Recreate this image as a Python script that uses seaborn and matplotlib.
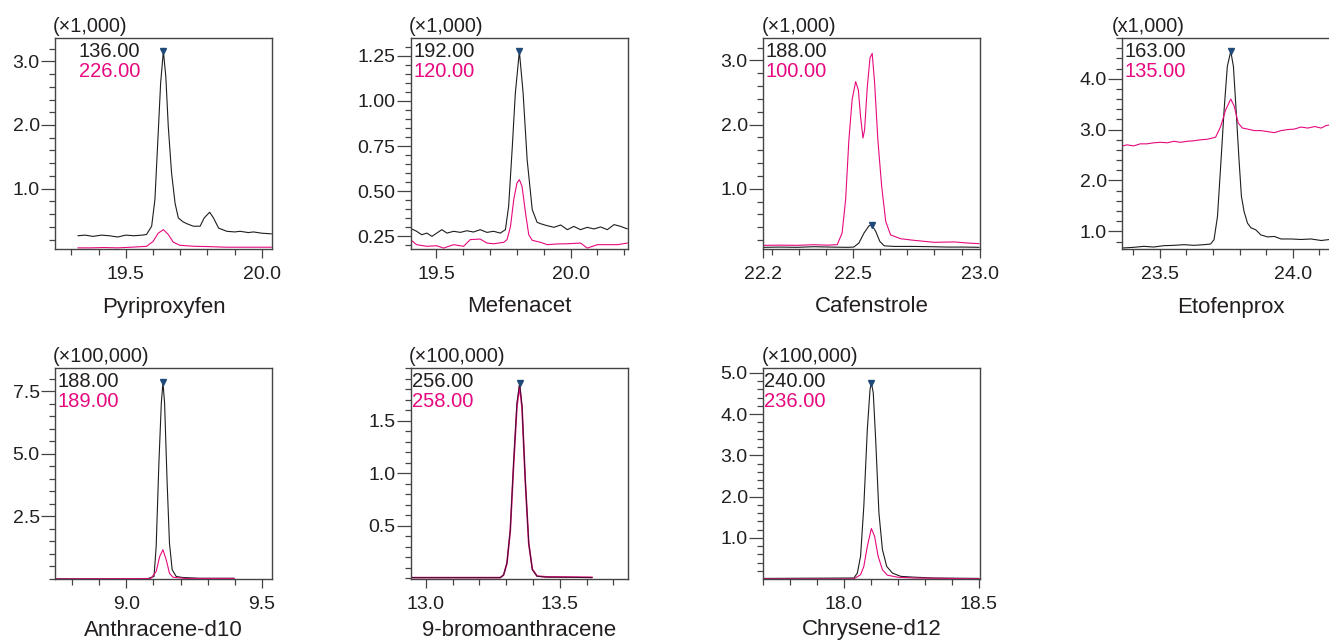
import matplotlib
matplotlib.use("Agg")
import matplotlib.pyplot as plt
from matplotlib.ticker import FixedLocator, MultipleLocator, FormatStrFormatter
import seaborn as sns

# ---- data (retention time in min, intensity in units of the multiplier) ----

# Pyriproxyfen  (x1,000)
pyr_rt_136 = [19.324, 19.35, 19.38, 19.41, 19.44, 19.47, 19.50, 19.53, 19.56, 19.576, 19.595, 19.607,
              19.619, 19.628, 19.638, 19.647, 19.656, 19.668, 19.681, 19.693, 19.71, 19.724, 19.748,
              19.773, 19.788, 19.808, 19.822, 19.841, 19.871, 19.90, 19.92, 19.95, 19.969, 20.0, 20.035]
pyr_int_136 = [0.26, 0.27, 0.25, 0.27, 0.26, 0.24, 0.27, 0.26, 0.27, 0.28, 0.41, 0.83,
               1.87, 2.66, 3.16, 2.76, 1.98, 1.25, 0.77, 0.54, 0.48, 0.45, 0.41,
               0.41, 0.54, 0.63, 0.54, 0.38, 0.33, 0.32, 0.33, 0.31, 0.32, 0.30, 0.29]
pyr_rt_226 = [19.324, 19.37, 19.42, 19.47, 19.52, 19.576, 19.60, 19.619, 19.638, 19.656, 19.674,
              19.699, 19.75, 19.80, 19.87, 19.94, 20.035]
pyr_int_226 = [0.07, 0.07, 0.075, 0.07, 0.08, 0.094, 0.17, 0.30, 0.356, 0.28, 0.16,
               0.11, 0.095, 0.09, 0.08, 0.08, 0.08]

# Mefenacet  (x1,000)
mef_rt_192 = [19.408, 19.426, 19.445, 19.464, 19.483, 19.501, 19.52, 19.539, 19.564, 19.589, 19.613,
              19.638, 19.663, 19.688, 19.713, 19.738, 19.757, 19.769, 19.782, 19.794, 19.809, 19.823,
              19.838, 19.857, 19.875, 19.888, 19.913, 19.938, 19.963, 19.988, 20.012, 20.037, 20.062,
              20.087, 20.112, 20.137, 20.162, 20.187, 20.212]
mef_int_192 = [0.291, 0.278, 0.259, 0.268, 0.25, 0.268, 0.287, 0.268, 0.278, 0.272, 0.281,
               0.274, 0.287, 0.272, 0.278, 0.268, 0.287, 0.416, 0.73, 1.043, 1.274, 1.043,
               0.674, 0.398, 0.328, 0.32, 0.309, 0.30, 0.313, 0.287, 0.305, 0.287, 0.30,
               0.291, 0.302, 0.287, 0.315, 0.305, 0.291]
mef_rt_120 = [19.408, 19.426, 19.464, 19.501, 19.526, 19.564, 19.601, 19.626, 19.663, 19.688, 19.713,
              19.751, 19.763, 19.776, 19.788, 19.80, 19.809, 19.819, 19.832, 19.844, 19.857, 19.888,
              19.913, 19.95, 19.988, 20.037, 20.062, 20.10, 20.137, 20.175, 20.212]
mef_int_120 = [0.226, 0.204, 0.195, 0.198, 0.185, 0.204, 0.195, 0.232, 0.235, 0.213, 0.209,
               0.217, 0.232, 0.305, 0.453, 0.545, 0.564, 0.527, 0.379, 0.259, 0.228, 0.217,
               0.204, 0.208, 0.209, 0.213, 0.185, 0.204, 0.204, 0.204, 0.213]

# Cafenstrole  (x1,000)
caf_rt_188 = [22.169, 22.231, 22.293, 22.354, 22.416, 22.478, 22.502, 22.521, 22.54, 22.558, 22.568,
              22.583, 22.598, 22.614, 22.651, 22.725, 22.786, 22.848, 22.91, 22.965]
caf_int_188 = [0.086, 0.09, 0.086, 0.096, 0.09, 0.086, 0.09, 0.153, 0.31, 0.42, 0.44,
               0.335, 0.18, 0.11, 0.10, 0.10, 0.096, 0.09, 0.09, 0.086]
caf_rt_100 = [22.169, 22.231, 22.293, 22.354, 22.404, 22.441, 22.459, 22.472, 22.484, 22.496, 22.509,
              22.519, 22.527, 22.536, 22.542, 22.552, 22.562, 22.57, 22.579, 22.591, 22.605, 22.62,
              22.638, 22.675, 22.725, 22.799, 22.873, 22.922, 22.965]
caf_int_100 = [0.117, 0.12, 0.117, 0.127, 0.12, 0.127, 0.31, 0.83, 1.76, 2.39, 2.67,
               2.54, 2.13, 1.79, 1.92, 2.59, 3.04, 3.11, 2.65, 1.76, 1.04, 0.49,
               0.28, 0.22, 0.195, 0.164, 0.17, 0.153, 0.143]

# Etofenprox  (x1,000)
eto_rt_163 = [23.361, 23.402, 23.44, 23.477, 23.515, 23.553, 23.591, 23.628, 23.666, 23.691, 23.704,
              23.717, 23.729, 23.742, 23.754, 23.767, 23.777, 23.787, 23.798, 23.807, 23.817, 23.83,
              23.843, 23.861, 23.88, 23.906, 23.931, 23.956, 23.994, 24.031, 24.069, 24.107, 24.139, 24.17]
eto_int_163 = [0.673, 0.686, 0.705, 0.692, 0.718, 0.725, 0.738, 0.725, 0.738, 0.751, 0.836,
               1.29, 2.28, 3.39, 4.24, 4.54, 4.24, 3.39, 2.41, 1.69, 1.39, 1.16,
               1.07, 1.03, 0.93, 0.89, 0.90, 0.85, 0.85, 0.84, 0.85, 0.82, 0.84, 0.83]
eto_rt_135 = [23.361, 23.377, 23.402, 23.427, 23.452, 23.477, 23.503, 23.528, 23.553, 23.578, 23.603,
              23.628, 23.654, 23.679, 23.71, 23.729, 23.748, 23.767, 23.78, 23.795, 23.811, 23.83,
              23.855, 23.88, 23.906, 23.931, 23.956, 23.981, 24.006, 24.031, 24.057, 24.082, 24.107,
              24.126, 24.139, 24.17]
eto_int_135 = [2.68, 2.70, 2.68, 2.72, 2.72, 2.74, 2.75, 2.74, 2.77, 2.75, 2.77,
               2.78, 2.80, 2.81, 2.85, 3.06, 3.39, 3.60, 3.46, 3.13, 3.03, 3.01,
               2.98, 2.98, 2.96, 2.94, 2.98, 3.00, 3.01, 3.05, 3.03, 3.06, 3.03,
               3.08, 3.09, 3.08]

# Anthracene-d10  (x100,000)
ant_rt_188 = [8.74, 9.0, 9.08, 9.102, 9.11, 9.12, 9.129, 9.135, 9.141, 9.15, 9.159, 9.169,
              9.184, 9.208, 9.27, 9.398]
ant_int_188 = [0.01, 0.01, 0.02, 0.1, 1.3, 4.63, 7.03, 7.86, 7.03, 3.97, 1.43, 0.37,
               0.1, 0.06, 0.03, 0.03]
ant_rt_189 = [8.74, 9.09, 9.11, 9.123, 9.135, 9.147, 9.159, 9.172, 9.221, 9.398]
ant_int_189 = [0.005, 0.02, 0.3, 0.9, 1.17, 0.77, 0.23, 0.07, 0.02, 0.02]

# 9-bromoanthracene  (x100,000)
bro_rt_256 = [12.946, 13.2775, 13.29, 13.3025, 13.315, 13.3275, 13.34, 13.35, 13.359, 13.371,
              13.384, 13.3975, 13.415, 13.45, 13.55, 13.621]
bro_int_256 = [0.005, 0.005, 0.03, 0.144, 0.46, 1.1, 1.67, 1.86, 1.64, 0.94,
               0.335, 0.08, 0.018, 0.01, 0.008, 0.005]
bro_rt_258 = [12.946, 13.2775, 13.29, 13.3025, 13.315, 13.3275, 13.34, 13.35, 13.359, 13.371,
              13.384, 13.3975, 13.415, 13.45, 13.55, 13.621]
bro_int_258 = [0.005, 0.005, 0.03, 0.14, 0.45, 1.08, 1.64, 1.83, 1.62, 0.93,
               0.33, 0.085, 0.02, 0.012, 0.01, 0.008]

# Chrysene-d12  (x100,000)
chr_rt_240 = [17.70, 18.037, 18.05, 18.062, 18.074, 18.087, 18.097, 18.102, 18.109, 18.118, 18.13,
              18.143, 18.159, 18.18, 18.211, 18.261, 18.335, 18.502]
chr_int_240 = [0.02, 0.03, 0.15, 0.56, 1.77, 3.63, 4.6, 4.76, 4.52, 3.38, 1.61,
               0.72, 0.31, 0.15, 0.07, 0.05, 0.03, 0.02]
chr_rt_236 = [17.70, 18.037, 18.062, 18.074, 18.087, 18.102, 18.114, 18.127, 18.143, 18.161,
              18.199, 18.261, 18.502]
chr_int_236 = [0.01, 0.01, 0.11, 0.31, 0.80, 1.23, 1.04, 0.56, 0.23, 0.10, 0.05, 0.03, 0.01]

names = ["Pyriproxyfen", "Mefenacet", "Cafenstrole", "Etofenprox",
         "Anthracene-d10", "9-bromoanthracene", "Chrysene-d12"]
multipliers = ["(\u00d71,000)", "(\u00d71,000)", "(\u00d71,000)", "(x1,000)",
               "(\u00d7100,000)", "(\u00d7100,000)", "(\u00d7100,000)"]
ions_target = ["136.00", "192.00", "188.00", "163.00", "188.00", "256.00", "240.00"]
ions_ref = ["226.00", "120.00", "100.00", "135.00", "189.00", "258.00", "236.00"]

traces = [
    (pyr_rt_136, pyr_int_136, pyr_rt_226, pyr_int_226),
    (mef_rt_192, mef_int_192, mef_rt_120, mef_int_120),
    (caf_rt_188, caf_int_188, caf_rt_100, caf_int_100),
    (eto_rt_163, eto_int_163, eto_rt_135, eto_int_135),
    (ant_rt_188, ant_int_188, ant_rt_189, ant_int_189),
    (bro_rt_256, bro_int_256, bro_rt_258, bro_int_258),
    (chr_rt_240, chr_int_240, chr_rt_236, chr_int_236),
]

# axis setup per panel: xlim, ylim, x major ticks, x labels, y major ticks, y fmt, y minor step
axis_spec = [
    ((19.24, 20.037), (0.052, 3.366), [19.5, 20.0], ["19.5", "20.0"], [1, 2, 3], "%.1f", 0.2),
    ((19.405, 20.214), (0.18, 1.348), [19.5, 20.0], ["19.5", "20.0"], [0.25, 0.5, 0.75, 1.0, 1.25], "%.2f", 0.05),
    ((22.167, 22.968), (0.06, 3.35), [22.167, 22.5, 22.968], ["22.2", "22.5", "23.0"], [1, 2, 3], "%.1f", 0.2),
    ((23.358, 24.174), (0.653, 4.80), [23.5, 24.0], ["23.5", "24.0"], [1, 2, 3, 4], "%.1f", 0.2),
    ((8.737, 9.537), (0.0, 8.43), [9.0, 9.5], ["9.0", "9.5"], [2.5, 5.0, 7.5], "%.1f", 0.5),
    ((12.944, 13.755), (-0.008, 2.0), [13.0, 13.5], ["13.0", "13.5"], [0.5, 1.0, 1.5], "%.1f", 0.1),
    ((17.70, 18.505), (0.006, 5.12), [18.0, 18.5], ["18.0", "18.5"], [1, 2, 3, 4, 5], "%.1f", 0.2),
]

# layout (pixels measured on the reference)
W, H = 1329, 642
col_left = [55, 411, 763, 1122]
row_top = [38, 368]
ax_w, ax_h = 217, 211
ion_x = [0.11, 0.01, 0.01, 0.01, 0.01, 0.005, 0.005]
mult_dx = [-2, -2, -1, -10, -2, -2, -1]
title_dy = [-58, -58, -58, -58, -51, -51, -51]

sns.set_style("ticks")
plt.rcParams["font.family"] = ["Liberation Sans", "DejaVu Sans"]

BLACK = "#1e1e1e"
PINK = "#e6097f"
TXT = "#231f20"

fig = plt.figure(figsize=(W / 100, H / 100), dpi=100)

for i in range(7):
    r, c = divmod(i, 4)
    left = col_left[c] / W
    bottom = 1 - (row_top[r] + ax_h) / H
    ax = fig.add_axes([left, bottom, ax_w / W, ax_h / H])

    rt1, int1, rt2, int2 = traces[i]
    if i == 5:
        sns.lineplot(x=rt2, y=int2, ax=ax, color=PINK, lw=1.2, sort=False, estimator=None)
        sns.lineplot(x=rt1, y=int1, ax=ax, color="#3a1428", lw=0.7, sort=False, estimator=None)
    else:
        sns.lineplot(x=rt1, y=int1, ax=ax, color=BLACK, lw=0.8, sort=False, estimator=None)
        sns.lineplot(x=rt2, y=int2, ax=ax, color=PINK, lw=0.8, sort=False, estimator=None)

    # peak marker on the target ion
    k = int1.index(max(int1))
    ax.plot(rt1[k], int1[k], marker="v", color="#1f4a7a", markersize=4.5, zorder=5)

    xlim, ylim, xt, xl, yt, yfmt, ystep = axis_spec[i]
    ax.set_xlim(*xlim)
    ax.set_ylim(*ylim)
    ax.xaxis.set_major_locator(FixedLocator(xt))
    ax.set_xticklabels(xl)
    ax.xaxis.set_minor_locator(MultipleLocator(0.1))
    ax.yaxis.set_major_locator(FixedLocator(yt))
    ax.yaxis.set_major_formatter(FormatStrFormatter(yfmt))
    ax.yaxis.set_minor_locator(MultipleLocator(ystep))
    ax.set_xlabel("")
    ax.set_ylabel("")

    ax.tick_params(axis="x", which="major", length=6.5, width=0.9, pad=6, labelsize=14,
                   color="#444444", labelcolor=TXT, direction="out")
    ax.tick_params(axis="x", which="minor", length=4.3, width=0.9, color="#444444", direction="out")
    ax.tick_params(axis="y", which="major", length=10, width=0.9, pad=1, labelsize=14,
                   color="#444444", labelcolor=TXT, direction="out")
    ax.tick_params(axis="y", which="minor", length=4, width=0.9, color="#444444", direction="out")
    for s in ax.spines.values():
        s.set_color("#444444")
        s.set_linewidth(1.0)

    ax.text(ion_x[i], 0.934, ions_target[i], transform=ax.transAxes, color=TXT,
            fontsize=14.5, ha="left", va="center")
    ax.text(ion_x[i], 0.839, ions_ref[i], transform=ax.transAxes, color=PINK,
            fontsize=14.5, ha="left", va="center")
    ax.text(mult_dx[i] / ax_w, 1 + 12 / ax_h, multipliers[i], transform=ax.transAxes,
            color=TXT, fontsize=14.3, ha="left", va="center")
    ax.text(0.5, title_dy[i] / ax_h, names[i], transform=ax.transAxes, color=TXT,
            fontsize=16, ha="center", va="center")

fig.savefig("out.png", dpi=100)
